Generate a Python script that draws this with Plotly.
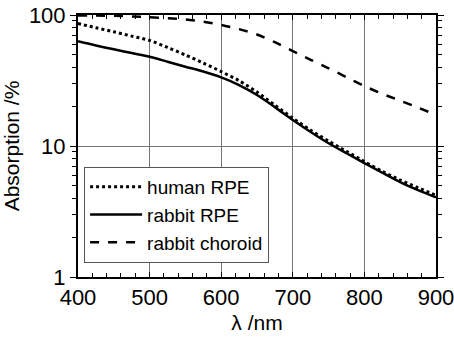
import plotly.graph_objects as go

wavelength = [400, 425, 450, 475, 500, 525, 550, 575, 600, 625, 650,
              675, 700, 725, 750, 775, 800, 825, 850, 875, 900]
human_rpe = [86, 80, 74.5, 69, 64, 56.5, 49.5, 43, 37, 31.5, 25.8,
             20.5, 16.3, 13.2, 10.9, 9.1, 7.6, 6.4, 5.5, 4.8, 4.2]
rabbit_rpe = [63, 58.5, 54.7, 51.2, 48, 44, 40.3, 37, 33.4, 29.2, 24.5,
              19.8, 15.8, 12.8, 10.5, 8.8, 7.4, 6.25, 5.3, 4.6, 4.05]
rabbit_choroid = [99, 99, 98.5, 97.5, 96, 94.5, 92.5, 89, 84, 78, 71,
                  62, 53, 45.5, 39.2, 33.5, 28.7, 25, 22.2, 19.6, 17.3]

x_ticks = [400, 500, 600, 700, 800, 900]
x_minor = [v for v in range(400, 901, 20)]
y_ticks = [1, 10, 100]
y_tick_labels = ["1", "10", "100"]
y_minor = [2, 3, 4, 5, 6, 7, 8, 9, 20, 30, 40, 50, 60, 70, 80, 90]

FONT = "Liberation Sans, Arial, sans-serif"

fig = go.Figure()
fig.add_trace(go.Scatter(x=wavelength, y=human_rpe, name="human RPE", mode="lines",
                         line=dict(color="black", width=3, dash="dot", shape="spline", smoothing=0.8)))
fig.add_trace(go.Scatter(x=wavelength, y=rabbit_rpe, name="rabbit RPE", mode="lines",
                         line=dict(color="black", width=2.5, shape="spline", smoothing=0.8)))
fig.add_trace(go.Scatter(x=wavelength, y=rabbit_choroid, name="rabbit choroid", mode="lines",
                         line=dict(color="black", width=2.5, dash="dash", shape="spline", smoothing=0.8)))
# invisible trace to carry the minor-tick overlay axes
fig.add_trace(go.Scatter(x=wavelength, y=rabbit_rpe, xaxis="x2", yaxis="y2", mode="lines",
                         line=dict(width=0), opacity=0, showlegend=False, hoverinfo="skip"))

fig.update_layout(
    width=454, height=341,
    margin=dict(l=78, r=18, t=15, b=64, autoexpand=False),
    paper_bgcolor="white", plot_bgcolor="white",
    font=dict(family=FONT, size=22, color="black"),
    showlegend=True,
    legend=dict(x=0.017, y=0.42, xanchor="left", yanchor="top",
                bgcolor="white", bordercolor="#555", borderwidth=1,
                font=dict(size=19, family=FONT), tracegroupgap=0, itemwidth=52),
    xaxis=dict(
        range=[400, 900], tickvals=x_ticks, ticks="inside", ticklen=5, tickcolor="black",
        showline=True, linecolor="black", linewidth=2, mirror="ticks",
        showgrid=True, gridcolor="#777", gridwidth=1, automargin=False,
        ticklabeloverflow="allow",
        title=dict(text="λ /nm", font=dict(size=21), standoff=6),
        tickfont=dict(size=22), zeroline=False,
    ),
    yaxis=dict(
        type="log", range=[0, 2], tickvals=y_ticks, ticktext=y_tick_labels,
        ticks="outside", ticklen=6, tickcolor="black",
        showline=True, linecolor="black", linewidth=2, mirror="ticks",
        showgrid=True, gridcolor="#777", gridwidth=1, automargin=False,
        ticklabeloverflow="allow",
        title=dict(text="Absorption /%", font=dict(size=21), standoff=4),
        tickfont=dict(size=22), zeroline=False,
    ),
    xaxis2=dict(
        overlaying="x", anchor="y2", range=[400, 900], tickvals=x_minor,
        ticks="inside", ticklen=4, tickcolor="black", showticklabels=False,
        showline=True, linecolor="black", linewidth=2, mirror="ticks",
        showgrid=False, zeroline=False, automargin=False,
    ),
    yaxis2=dict(
        overlaying="y", anchor="x2", type="log", range=[0, 2], tickvals=y_minor,
        ticks="outside", ticklen=4, tickcolor="black", showticklabels=False,
        showline=True, linecolor="black", linewidth=2, mirror="ticks",
        showgrid=False, zeroline=False, automargin=False,
    ),
)

fig.write_html("out.html")
